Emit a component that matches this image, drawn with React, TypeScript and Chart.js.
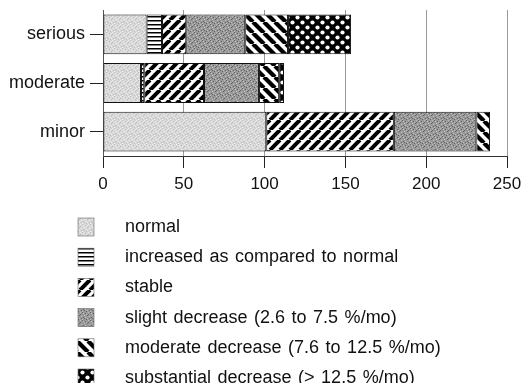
import React, { useEffect, useRef } from "react";
import { Chart, registerables } from "chart.js";

Chart.register(...registerables);

const categories = ["serious", "moderate", "minor"];
const seriesNames = [
  "normal",
  "increased as compared to normal",
  "stable",
  "slight decrease (2.6 to 7.5 %/mo)",
  "moderate decrease (7.6 to 12.5 %/mo)",
  "substantial decrease (> 12.5 %/mo)",
];
const normalValues = [27, 23.5, 101];
const increasedValues = [9.5, 2, 0];
const stableValues = [15, 37, 79];
const slightValues = [36.5, 34, 51];
const moderateValues = [26.5, 12.5, 8.5];
const substantialValues = [39, 3, 0];
const xTicks = [0, 50, 100, 150, 200, 250];

const FONT = "'Liberation Sans', Arial, Helvetica, sans-serif";

function makePattern(w: number, h: number, draw: (ctx: CanvasRenderingContext2D) => void) {
  const c = document.createElement("canvas");
  c.width = w;
  c.height = h;
  const ctx = c.getContext("2d")!;
  draw(ctx);
  return ctx.createPattern(c, "repeat") as CanvasPattern;
}

function texture(ctx: CanvasRenderingContext2D, base: string, light: string, dark: string) {
  ctx.fillStyle = base;
  ctx.fillRect(0, 0, 8, 8);
  const lightPts = [[0, 0], [3, 1], [6, 2], [1, 4], [5, 5], [2, 7], [7, 6], [4, 3]];
  const darkPts = [[2, 0], [5, 1], [0, 2], [7, 3], [3, 5], [6, 7], [1, 6], [4, 6]];
  ctx.fillStyle = light;
  lightPts.forEach(([x, y]) => ctx.fillRect(x, y, 1, 1));
  ctx.fillStyle = dark;
  darkPts.forEach(([x, y]) => ctx.fillRect(x, y, 1, 1));
}

function diag(ctx: CanvasRenderingContext2D, s: number, lw: number, forward: boolean) {
  ctx.fillStyle = "#fff";
  ctx.fillRect(0, 0, s, s);
  ctx.strokeStyle = "#000";
  ctx.lineWidth = lw;
  for (let k = -1; k <= 1; k++) {
    ctx.beginPath();
    if (forward) {
      ctx.moveTo(k * s, s);
      ctx.lineTo(k * s + s, 0);
    } else {
      ctx.moveTo(k * s, 0);
      ctx.lineTo(k * s + s, s);
    }
    ctx.stroke();
  }
}

function buildPatterns() {
  const normal = makePattern(8, 8, (ctx) => texture(ctx, "#d8d8d8", "#f0f0f0", "#bcbcbc"));
  const increased = makePattern(4, 4, (ctx) => {
    ctx.fillStyle = "#fff";
    ctx.fillRect(0, 0, 4, 4);
    ctx.fillStyle = "#000";
    ctx.fillRect(0, 0, 4, 1.5);
  });
  const stable = makePattern(10, 10, (ctx) => diag(ctx, 10, 4, true));
  const slight = makePattern(8, 8, (ctx) => texture(ctx, "#989898", "#c0c0c0", "#666666"));
  const moderate = makePattern(11, 11, (ctx) => diag(ctx, 11, 4.2, false));
  const substantial = makePattern(10, 10, (ctx) => {
    ctx.fillStyle = "#000";
    ctx.fillRect(0, 0, 10, 10);
    ctx.fillStyle = "#fff";
    [[2.5, 2.5], [7.5, 7.5]].forEach(([x, y]) => {
      ctx.beginPath();
      ctx.arc(x, y, 2.1, 0, Math.PI * 2);
      ctx.fill();
    });
  });
  return [normal, increased, stable, slight, moderate, substantial];
}

const legendPlugin = {
  id: "customLegend",
  afterDraw(chart: any) {
    const ctx = chart.ctx as any;
    ctx.save();
    chart.data.datasets.forEach((ds: any, i: number) => {
      const cy = 227 + i * 30.2;
      ctx.fillStyle = ds.backgroundColor;
      ctx.fillRect(78, cy - 9, 16, 18);
      ctx.strokeStyle = "#666";
      ctx.lineWidth = 0.6;
      ctx.strokeRect(78, cy - 9, 16, 18);
      ctx.fillStyle = "#111";
      ctx.font = `18px ${FONT}`;
      ctx.wordSpacing = "1.5px";
      ctx.textBaseline = "middle";
      ctx.textAlign = "left";
      ctx.fillText(ds.label, 125, cy);
    });
    ctx.restore();
  },
};

export default function App() {
  const ref = useRef<HTMLCanvasElement>(null);
  useEffect(() => {
    const pats = buildPatterns();
    const values = [normalValues, increasedValues, stableValues, slightValues, moderateValues, substantialValues];
    const chart = new Chart(ref.current!, {
      type: "bar",
      data: {
        labels: categories,
        datasets: values.map((v, i) => ({
          label: seriesNames[i],
          data: v,
          backgroundColor: pats[i],
          borderColor: "#111",
          borderWidth: 1,
          borderSkipped: false,
          barPercentage: 0.82,
          categoryPercentage: 1,
        })),
      },
      options: {
        indexAxis: "y",
        animation: false,
        responsive: false,
        maintainAspectRatio: false,
        layout: { padding: { top: 10, right: 18, bottom: 190, left: 0 } },
        plugins: { legend: { display: false }, tooltip: { enabled: false } },
        scales: {
          x: {
            stacked: true,
            min: 0,
            max: 250,
            afterBuildTicks: (scale: any) => {
              scale.ticks = xTicks.map((v) => ({ value: v }));
            },
            afterFit: (scale: any) => {
              scale.height = 37;
              scale.paddingLeft = 0;
              scale.paddingRight = 0;
            },
            grid: { color: "#9a9a9a", lineWidth: 1, tickColor: "#222", tickLength: 12 },
            border: { display: true, color: "#333", width: 1 },
            ticks: { color: "#111", font: { size: 17, family: FONT }, padding: 6 },
          },
          y: {
            stacked: true,
            afterFit: (scale: any) => {
              scale.width = 103;
              scale.paddingTop = 0;
              scale.paddingBottom = 0;
            },
            grid: { drawOnChartArea: false, offset: false, tickColor: "#222", tickLength: 13 },
            border: { display: true, color: "#555", width: 1 },
            ticks: { color: "#111", font: { size: 18, family: FONT }, padding: 5 },
          },
        },
      },
      plugins: [legendPlugin],
    } as any);
    return () => chart.destroy();
  }, []);
  return (
    <div style={{ position: "absolute", left: 0, top: 0, width: 525, height: 383, background: "#fff" }}>
      <canvas ref={ref} width={525} height={383} style={{ width: 525, height: 383 }} />
    </div>
  );
}
